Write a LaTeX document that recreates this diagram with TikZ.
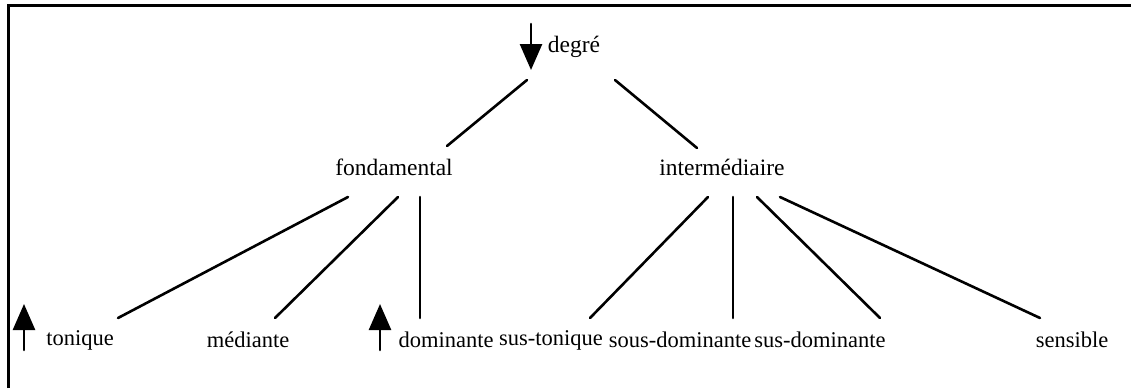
\documentclass[tikz,border=0pt]{standalone}
\usepackage{fontspec}
\setmainfont{Liberation Serif}
\usetikzlibrary{arrows.meta}
\begin{document}
\begin{tikzpicture}[x=1pt, y=-1pt, line cap=round,
        edge/.style={line width=2.6pt},
        up arrow/.style={line width=2.6pt, -{Triangle[length=26pt,width=22pt]}},
        word/.style={font=\fontsize{23.5}{28}\selectfont, inner sep=0pt},
        low word/.style={font=\fontsize{22.5}{27}\selectfont, inner sep=0pt}]
        \useasboundingbox (0,0) rectangle (1131,388);
        % frame
        \draw[line width=3pt, line cap=butt] (8,388) -- (8,5) -- (1131,5);
        % words
        \node[word] (deg)   at (574,47)  {degré};
        \node[word] (fond)  at (394,167) {fondamental};
        \node[word] (inter) at (722,167) {intermédiaire};
        \node[low word] (ton)   at (80,340)  {tonique};
        \node[low word] (med)   at (248,340) {médiante};
        \node[low word] (dom)   at (446,340) {dominante};
        \node[low word] (sust)  at (551,340) {sus-tonique};
        \node[low word] (sousd) at (680,340) {sous-dominante};
        \node[low word] (susd)  at (820,340) {sus-dominante};
        \node[low word] (sens)  at (1072,340) {sensible};
        % arrows
        \coordinate (degA) at (531,24);   \coordinate (degB) at (531,70);
        \coordinate (tonA) at (24,350);   \coordinate (tonB) at (24,304);
        \coordinate (domA) at (380,350);  \coordinate (domB) at (380,304);
        \draw[up arrow] (degA) -- (degB);
        \draw[up arrow] (tonA) -- (tonB);
        \draw[up arrow] (domA) -- (domB);
        % branches
        \draw[edge] ([shift={(-47,33)}]deg.center) -- ([shift={(53,-21)}]fond.center);
        \draw[edge] ([shift={(41,33)}]deg.center) -- ([shift={(-25,-19)}]inter.center);
        \draw[edge] ([shift={(-46,30)}]fond.center) -- ([shift={(38,-22)}]ton.center);
        \draw[edge] ([shift={(4,30)}]fond.center) -- ([shift={(27,-22)}]med.center);
        \draw[edge] ([shift={(26,30)}]fond.center) -- ([shift={(-26,-22)}]dom.center);
        \draw[edge] ([shift={(-14,30)}]inter.center) -- ([shift={(39,-22)}]sust.center);
        \draw[edge] ([shift={(11,30)}]inter.center) -- ([shift={(53,-22)}]sousd.center);
        \draw[edge] ([shift={(35,30)}]inter.center) -- ([shift={(60,-22)}]susd.center);
        \draw[edge] ([shift={(58,30)}]inter.center) -- ([shift={(-32,-22)}]sens.center);
    \end{tikzpicture}
\end{document}
